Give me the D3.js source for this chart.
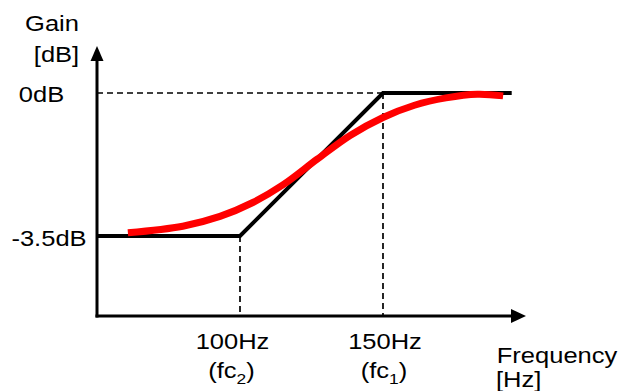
<!DOCTYPE html>
<html>
<head>
<meta charset="utf-8">
<script src="https://cdn.jsdelivr.net/npm/d3@7"></script>
<style>
  html, body { margin: 0; padding: 0; background: #fff; }
  svg { display: block; }
  text { font-family: "Liberation Sans", Arial, Helvetica, sans-serif; fill: #000; }
</style>
</head>
<body>
<svg id="chart" width="621" height="391"></svg>
<script>
// ---- data ----
const cutoffFreqs = [100, 150];                 // Hz
const cutoffLabels = ["100Hz", "150Hz"];
const cutoffSubs = ["2", "1"];
const gainLevels = [0, -3.5];                   // dB
const gainLabels = ["0dB", "-3.5dB"];
const asymFreq = [50, 100, 150, 195];
const asymGain = [-3.5, -3.5, 0, 0];
const respFreq = [60.8, 80, 93, 104.5, 115, 127, 138.5, 150, 161, 172, 183, 192];
const respGain = [-3.42, -3.26, -3.02, -2.68, -2.25, -1.62, -1.04, -0.60, -0.30, -0.12, -0.03, -0.07];

// ---- layout ----
const svg = d3.select("#chart");
const x = d3.scaleLinear().domain([50, 200]).range([97, 526]);
const y = d3.scaleLinear().domain([-3.5, 0]).range([236, 93]);
const yAxisBottom = 316;   // pixel row of frequency axis
const yAxisTop = 46;
const SX = 1.16;           // horizontal stretch of the text

function label(str, cx, by, anchor) {
  return svg.append("text")
    .attr("transform", `translate(${cx},${by}) scale(${SX},1)`)
    .attr("text-anchor", anchor || "middle")
    .style("font-size", "22px")
    .text(str);
}

// dashed guides
const dash = "6,4";
svg.append("line")
  .attr("x1", x(50)).attr("x2", x(cutoffFreqs[1]))
  .attr("y1", y(0)).attr("y2", y(0))
  .attr("stroke", "#000").attr("stroke-width", 1.7).attr("stroke-dasharray", dash);
svg.append("line")
  .attr("x1", x(cutoffFreqs[0])).attr("x2", x(cutoffFreqs[0]))
  .attr("y1", y(-3.5)).attr("y2", yAxisBottom)
  .attr("stroke", "#000").attr("stroke-width", 1.7).attr("stroke-dasharray", dash);
svg.append("line")
  .attr("x1", x(cutoffFreqs[1])).attr("x2", x(cutoffFreqs[1]))
  .attr("y1", y(0)).attr("y2", yAxisBottom)
  .attr("stroke", "#000").attr("stroke-width", 1.7).attr("stroke-dasharray", dash);

// axes
svg.append("line")
  .attr("x1", x(50)).attr("x2", x(50))
  .attr("y1", yAxisBottom + 1.5).attr("y2", yAxisTop + 12)
  .attr("stroke", "#000").attr("stroke-width", 3);
svg.append("path")
  .attr("d", `M${x(50)},${yAxisTop} L${x(50) - 6.5},${yAxisTop + 15} L${x(50) + 6.5},${yAxisTop + 15} Z`)
  .attr("fill", "#000");
svg.append("line")
  .attr("x1", x(50) - 1.5).attr("x2", x(200) - 12)
  .attr("y1", yAxisBottom).attr("y2", yAxisBottom)
  .attr("stroke", "#000").attr("stroke-width", 3);
svg.append("path")
  .attr("d", `M${x(200)},${yAxisBottom} L${x(200) - 15},${yAxisBottom - 7} L${x(200) - 15},${yAxisBottom + 7} Z`)
  .attr("fill", "#000");

// asymptote (black)
const asym = asymFreq.map((f, i) => [f, asymGain[i]]);
svg.append("path")
  .attr("d", d3.line().x(d => x(d[0])).y(d => y(d[1]))(asym))
  .attr("fill", "none").attr("stroke", "#000").attr("stroke-width", 4)
  .attr("stroke-linejoin", "miter");

// response (red)
const resp = respFreq.map((f, i) => [f, respGain[i]]);
svg.append("path")
  .attr("d", d3.line().curve(d3.curveCatmullRom.alpha(0.5)).x(d => x(d[0])).y(d => y(d[1]))(resp))
  .attr("fill", "none").attr("stroke", "#ff0000").attr("stroke-width", 7)
  .attr("stroke-linecap", "butt");

// y labels
label("Gain", 52, 31);
label("[dB]", 56.5, 62);
label(gainLabels[0], 41.5, y(gainLevels[0]) + 9);
label(gainLabels[1], 49, y(gainLevels[1]) + 10);

// x labels
const dxOff = [-7.5, 2];
cutoffFreqs.forEach((f, i) => {
  label(cutoffLabels[i], x(f) + dxOff[i], 349);
  const t = label("(fc", x(f) + dxOff[i] - 1, 378);
  t.append("tspan").attr("dy", 6).style("font-size", "15px").text(cutoffSubs[i]);
  t.append("tspan").attr("dy", -6).text(")");
});
label("Frequency", 557, 363);
label("[Hz]", 496, 387, "start");
</script>
</body>
</html>
